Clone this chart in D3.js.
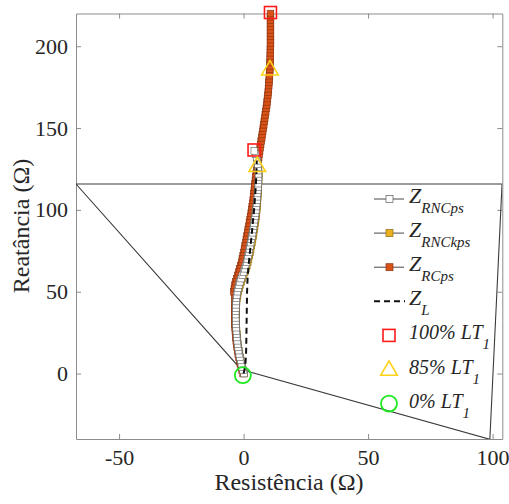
<!DOCTYPE html>
<html><head><meta charset="utf-8">
<script src="https://cdn.jsdelivr.net/npm/d3@7"></script>
<style>body{margin:0;background:#fff}</style>
</head><body><svg id="chart" width="509" height="504"></svg>
<script>
// Apparent impedance trajectories (R, X in ohms)
const zRNCps = [[0.2,0],[-0.2,2],[-0.6,4],[-0.9,6],[-1.2,8],[-1.5,10],[-1.75,12],[-2.0,14],[-2.2,16],[-2.4,18],
  [-2.55,20],[-2.7,22],[-2.8,24],[-2.9,26],[-3.0,28],[-3.05,30],[-3.1,32],[-3.1,34],[-3.15,36],[-3.15,38],
  [-3.1,40],[-3.05,42],[-3.0,44],[-2.9,46],[-2.7,48],[-2.5,50],[-2.2,52],[-1.9,54],[-1.5,56],[-1.0,58],
  [-0.5,60],[0.0,62],[0.4,64],[0.8,66],[1.2,68],[1.5,70],[1.8,72],[2.1,74],[2.35,76],[2.6,78],
  [2.85,80],[3.1,82],[3.35,84],[3.6,86],[3.8,88],[4.0,90],[4.2,92],[4.4,94],[4.6,96],[4.8,98],
  [4.95,100],[5.1,102],[5.25,104],[5.4,106],[5.5,108],[5.6,110],[5.7,112],[5.8,114],[5.9,116],[5.95,118],
  [6.0,120],[6.0,122],[5.95,124],[5.85,126],[5.7,128],[5.5,130],[5.2,132],[4.8,134],[4.3,136]];

const zRNCkps = [[0.3,0],[-0.1,2],[-0.5,4],[-0.8,6],[-1.1,8],[-1.4,10],[-1.65,12],[-1.9,14],[-2.1,16],[-2.3,18],
  [-2.45,20],[-2.6,22],[-2.7,24],[-2.8,26],[-2.9,28],[-2.95,30],[-3.0,32],[-3.0,34],[-3.05,36],[-3.05,38],
  [-3.0,40],[-2.9,42],[-2.8,44],[-2.65,46],[-2.4,48],[-2.15,50],[-1.8,52],[-1.45,54],[-1.0,56],[-0.5,58],
  [0.0,60],[0.5,62],[0.9,64],[1.3,66],[1.7,68],[2.0,70],[2.3,72],[2.6,74],[2.85,76],[3.1,78],
  [3.35,80],[3.6,82],[3.85,84],[4.05,86],[4.25,88],[4.45,90],[4.65,92],[4.85,94],[5.0,96],[5.15,98],
  [5.3,100],[5.4,102],[5.5,104],[5.6,106],[5.7,108],[5.75,110],[5.85,112],[5.9,114],[6.0,116],[6.05,118],
  [6.1,120],[6.1,122],[6.05,124],[5.95,126],[5.8,128],[5.55,130],[5.25,132],[4.85,134]];

const zRCps = [[-0.2,0],[-0.6,2],[-1.0,4],[-1.3,6],[-1.6,8],[-1.9,10],[-2.15,12],[-2.4,14],[-2.6,16],[-2.8,18],
  [-2.95,20],[-3.1,22],[-3.2,24],[-3.3,26],[-3.4,28],[-3.45,30],[-3.5,32],[-3.5,34],[-3.55,36],[-3.55,38],
  [-3.5,40],[-3.45,42],[-3.4,44],[-3.4,46],[-3.6,48],[-3.9,50],[-3.7,52],[-3.5,54],[-3.2,56],[-2.8,58],
  [-2.4,60],[-2.0,62],[-1.6,64],[-1.2,66],[-0.8,68],[-0.5,70],[-0.2,72],[0.1,74],[0.35,76],[0.6,78],
  [0.85,80],[1.1,82],[1.35,84],[1.6,86],[1.85,88],[2.1,90],[2.35,92],[2.6,94],[2.8,96],[3.05,98],
  [3.25,100],[3.45,102],[3.65,104],[3.85,106],[4.0,108],[4.15,110],[4.3,112],[4.45,114],[4.6,116],[4.75,118],
  [4.9,120],[5.05,122],[5.25,124],[5.45,126],[5.65,128],[5.85,130],[6.05,132],[6.25,134],[6.45,136],[6.65,138],
  [6.85,140],[7.05,142],[7.3,144],[7.5,146],[7.7,148],[7.9,150],[8.1,152],[8.3,154],[8.5,156],[8.7,158],
  [8.9,160],[9.1,162],[9.3,164],[9.45,166],[9.6,168],[9.75,170],[9.9,172],[10.0,174],[10.1,176],[10.2,178],
  [10.3,180],[10.4,182],[10.5,184],[10.55,186],[10.6,188],[10.65,190],[10.7,192],[10.7,194],[10.75,196],[10.75,198],
  [10.8,200],[10.8,202],[10.8,204],[10.8,206],[10.8,208],[10.8,210],[10.8,212],[10.8,214],[10.8,216],[10.8,218],[10.8,220]];

const zL = [[0,0],[0.7,5],[1.0,12],[1.1,20],[1.2,30],[1.3,40],[1.4,50],[1.6,58],[2.0,66],[2.6,75],
  [3.2,84],[3.7,92],[4.2,100],[4.7,110],[5.1,120],[5.3,130]];

// Load-level points along the trajectories
const lt100 = [[4.2,136.6],[10.8,220.6]];
const lt85 = [[5.5,127],[10.6,186]];
const lt0 = [[-0.3,-1]];

// Quadrilateral relay characteristic
const zone = [[-67.3,115.8],[-1.0,2.5],[98.9,-40.2],[103.8,115.8],[-67.3,115.8]];

const xTicks = [-50,0,50,100];
const yTicks = [0,50,100,150,200];

const FONT = "Liberation Serif";
const svg = d3.select("#chart").attr("font-family", FONT);
const x = d3.scaleLinear().domain([-67.3,103.9]).range([76,502.3]);
const y = d3.scaleLinear().domain([-40,220]).range([439,13.5]);
const axisCol = "#8c8c8c";
const plain = d => String(d);

svg.append("defs").append("clipPath").attr("id","plotClip")
  .append("rect").attr("x",76).attr("y",13.5).attr("width",426.3).attr("height",425.5);

// axes
const gx = svg.append("g").attr("transform","translate(0,439)")
  .call(d3.axisBottom(x).tickValues(xTicks).tickFormat(plain).tickSizeInner(-5).tickSizeOuter(0).tickPadding(10));
const gxt = svg.append("g").attr("transform","translate(0,13.5)")
  .call(d3.axisTop(x).tickValues(xTicks).tickSizeInner(-5).tickSizeOuter(0).tickFormat(""));
const gy = svg.append("g").attr("transform","translate(76,0)")
  .call(d3.axisLeft(y).tickValues(yTicks).tickFormat(plain).tickSizeInner(-5).tickSizeOuter(0).tickPadding(8));
const gyr = svg.append("g").attr("transform","translate(502.3,0)")
  .call(d3.axisRight(y).tickValues(yTicks).tickSizeInner(-5).tickSizeOuter(0).tickFormat(""));
[gx,gxt,gy,gyr].forEach(g=>{
  g.attr("font-family", FONT).attr("font-size", 22);
  g.selectAll("path.domain").attr("stroke",axisCol);
  g.selectAll(".tick line").attr("stroke",axisCol);
  g.selectAll(".tick text").attr("fill","#262626");
});

svg.append("text").attr("x",289).attr("y",490).attr("text-anchor","middle")
  .attr("font-family",FONT).attr("fill","#262626").attr("font-size",24).text("Resistência (Ω)");
svg.append("text").attr("transform","translate(29,226) rotate(-90)").attr("text-anchor","middle")
  .attr("font-family",FONT).attr("fill","#262626").attr("font-size",24).text("Reatância (Ω)");

const plot = svg.append("g").attr("clip-path","url(#plotClip)");
const line = d3.line().x(d=>x(d[0])).y(d=>y(d[1]));

plot.append("path").datum(zone).attr("d",line).attr("fill","none")
  .attr("stroke","#3a3a3a").attr("stroke-width",1.1);

const series = svg.append("g");
const ms = 6.6;
function squares(data, fill, edge, lineCol){
  series.append("path").datum(data).attr("d",line).attr("fill","none")
    .attr("stroke",lineCol).attr("stroke-width",0.8);
  series.append("g").selectAll("rect").data(data).join("rect")
    .attr("x",d=>x(d[0])-ms/2).attr("y",d=>y(d[1])-ms/2)
    .attr("width",ms).attr("height",ms)
    .attr("fill",fill).attr("stroke",edge).attr("stroke-width",0.6);
}
squares(zRCps,"#D95319","#8a3210","#333");
squares(zRNCkps,"#EDB120","#8a6a10","#333");
squares(zRNCps,"#ffffff","#5a5a5a","#222");

series.append("path").datum(zL).attr("d",line).attr("fill","none")
  .attr("stroke","#111").attr("stroke-width",2).attr("stroke-dasharray","6,4");

// load-level markers
series.selectAll("rect.lt100").data(lt100).join("rect").attr("class","lt100")
  .attr("x",d=>x(d[0])-6).attr("y",d=>y(d[1])-6).attr("width",12).attr("height",12)
  .attr("fill","none").attr("stroke","#ff1a1a").attr("stroke-width",1.6);
const tri = d3.symbol().type(d3.symbolTriangle).size(120);
series.selectAll("path.lt85").data(lt85).join("path").attr("class","lt85")
  .attr("d",tri).attr("transform",d=>`translate(${x(d[0])},${y(d[1])+1})`)
  .attr("fill","none").attr("stroke","#ffd21a").attr("stroke-width",1.6);
series.selectAll("circle.lt0").data(lt0).join("circle").attr("class","lt0")
  .attr("cx",d=>x(d[0])).attr("cy",d=>y(d[1])).attr("r",8)
  .attr("fill","none").attr("stroke","#1ee81e").attr("stroke-width",1.8);

// legend
const legend = [
  {main:"Z", sub:"RNCps", kind:"sq", fill:"#ffffff", edge:"#5a5a5a"},
  {main:"Z", sub:"RNCkps", kind:"sq", fill:"#EDB120", edge:"#8a6a10"},
  {main:"Z", sub:"RCps", kind:"sq", fill:"#D95319", edge:"#8a3210"},
  {main:"Z", sub:"L", kind:"dash"},
  {main:"100% LT", sub:"1", kind:"rsq"},
  {main:"85% LT", sub:"1", kind:"tri"},
  {main:"0% LT", sub:"1", kind:"circ"}
];
const lg = svg.append("g");
legend.forEach((e,i)=>{
  const cy = 199 + i*34.1;
  const g = lg.append("g");
  if(e.kind==="sq"){
    g.append("line").attr("x1",374).attr("x2",404).attr("y1",cy).attr("y2",cy).attr("stroke","#333").attr("stroke-width",0.9);
    g.append("rect").attr("x",389.5-3.5).attr("y",cy-3.5).attr("width",7).attr("height",7)
      .attr("fill",e.fill).attr("stroke",e.edge).attr("stroke-width",0.7);
  } else if(e.kind==="dash"){
    g.append("line").attr("x1",374).attr("x2",405).attr("y1",cy).attr("y2",cy)
      .attr("stroke","#111").attr("stroke-width",2).attr("stroke-dasharray","6,4");
  } else if(e.kind==="rsq"){
    g.append("rect").attr("x",389-6).attr("y",cy-6).attr("width",12).attr("height",12)
      .attr("fill","none").attr("stroke","#ff1a1a").attr("stroke-width",1.6);
  } else if(e.kind==="tri"){
    g.append("path").attr("d",tri).attr("transform",`translate(389,${cy+1})`)
      .attr("fill","none").attr("stroke","#ffd21a").attr("stroke-width",1.6);
  } else {
    g.append("circle").attr("cx",389).attr("cy",cy).attr("r",8)
      .attr("fill","none").attr("stroke","#1ee81e").attr("stroke-width",1.8);
  }
  const t = g.append("text").attr("x",409).attr("y",cy+4).attr("font-style","italic")
    .attr("font-family",FONT).attr("fill","#262626");
  t.append("tspan").attr("font-size",e.kind==="sq"||e.kind==="dash"?22:20).text(e.main);
  t.append("tspan").attr("font-size",15).attr("dy",10).text(e.sub);
});
</script></body></html>
